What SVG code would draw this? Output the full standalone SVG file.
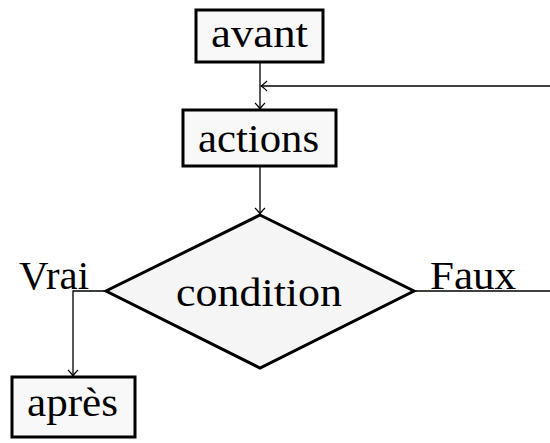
<svg xmlns="http://www.w3.org/2000/svg" width="550" height="443" viewBox="0 0 550 443">
  <style>
    .node { fill: #f5f5f5; stroke: #000; stroke-width: 3; }
    .box { fill: #f8f8f8; }
    .label { font-family: "Liberation Serif", "Times New Roman", serif; font-size: 39px; fill: #000; }
    .edge { fill: none; stroke: #000; stroke-width: 1.3; }
  </style>
  <defs>
    <marker id="arrow" markerUnits="userSpaceOnUse" markerWidth="12" markerHeight="12" viewBox="-7 -6 8 12" refX="0" refY="0" orient="auto">
      <path d="M-6,-5 Q-2,-1 0,0 Q-2,1 -6,5" fill="none" stroke="#000" stroke-width="1.2"/>
    </marker>
  </defs>

  <rect width="550" height="443" fill="#fff"/>

  <!-- connectors -->
  <g id="connectors">
    <path class="edge" d="M260,62 V109" marker-end="url(#arrow)"/>
    <path class="edge" d="M550,86 H261" marker-end="url(#arrow)"/>
    <path class="edge" d="M260,166 V214" marker-end="url(#arrow)"/>
    <path class="edge" d="M106,291 H73 V376" marker-end="url(#arrow)"/>
    <path class="edge" d="M414,291 H550"/>
  </g>

  <g id="avant">
    <rect class="node box" x="196" y="10" width="127" height="52"/>
    <text class="label" x="211" y="47" textLength="97" lengthAdjust="spacingAndGlyphs">avant</text>
  </g>

  <g id="actions">
    <rect class="node box" x="183" y="110" width="153" height="56"/>
    <text class="label" x="198" y="152" textLength="121" lengthAdjust="spacingAndGlyphs">actions</text>
  </g>

  <g id="condition">
    <polygon class="node" points="260,215 414,291 260,368 106,291"/>
    <text class="label" x="176" y="306" textLength="166" lengthAdjust="spacingAndGlyphs">condition</text>
  </g>

  <g id="apres">
    <rect class="node box" x="12" y="377" width="123" height="60"/>
    <text class="label" x="27" y="416" textLength="91" lengthAdjust="spacingAndGlyphs">après</text>
  </g>

  <g id="edge-labels">
    <text class="label" x="19" y="289" textLength="70" lengthAdjust="spacingAndGlyphs">Vrai</text>
    <text class="label" x="430" y="289" textLength="86" lengthAdjust="spacingAndGlyphs">Faux</text>
  </g>
</svg>
